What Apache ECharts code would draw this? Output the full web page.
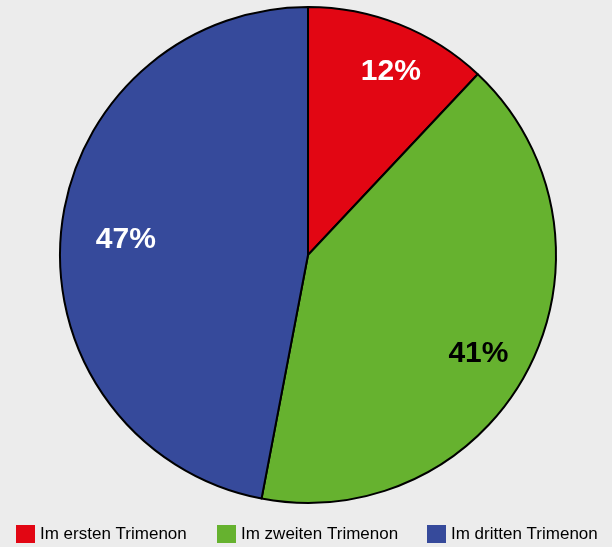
<!DOCTYPE html>
<html>
<head>
<meta charset="utf-8">
<script src="https://cdn.jsdelivr.net/npm/echarts@6/dist/echarts.min.js"></script>
<style>
  html, body { margin: 0; padding: 0; background: #ececec; }
  #chart { width: 612px; height: 547px; }
</style>
</head>
<body>
<div id="chart"></div>
<script>
// Share of cases per trimester
const categories = ['Im ersten Trimenon', 'Im zweiten Trimenon', 'Im dritten Trimenon'];
const shares = [12, 41, 47];
const colors = ['#e20613', '#66b22f', '#364a9b'];
const labelColors = ['#ffffff', '#000000', '#ffffff'];
const labelNudges = [[10, 1], [-6, 9], [15, 3]];

const FONT = '"Liberation Sans", Arial, Helvetica, sans-serif';

const chart = echarts.init(document.getElementById('chart'), null, { renderer: 'canvas' });

const sliceData = categories.map((name, i) => ({
  name,
  value: shares[i],
  itemStyle: { color: colors[i] }
}));

const labelData = categories.map((name, i) => ({
  name,
  value: shares[i],
  label: { color: labelColors[i], offset: labelNudges[i] }
}));

const legendLefts = [16, 217, 427];

chart.setOption({
  backgroundColor: '#ececec',
  animation: false,
  color: colors,
  legend: categories.map((name, i) => ({
    data: [name],
    left: legendLefts[i],
    top: 525,
    itemWidth: 19,
    itemHeight: 18,
    itemGap: 0,
    padding: 0,
    icon: 'rect',
    selectedMode: false,
    itemStyle: { borderWidth: 0 },
    textStyle: { fontFamily: FONT, fontSize: 17, color: '#000', padding: [2, 0, 0, 0] }
  })),
  series: [
    {
      type: 'pie',
      center: [308, 255],
      radius: [0, 248],
      startAngle: 90,
      clockwise: true,
      silent: true,
      label: { show: false },
      labelLine: { show: false },
      itemStyle: { borderColor: '#000', borderWidth: 2 },
      data: sliceData
    },
    {
      // transparent ring that carries the percentage labels
      type: 'pie',
      center: [308, 255],
      radius: [142, 248],
      startAngle: 90,
      clockwise: true,
      silent: true,
      legendHoverLink: false,
      itemStyle: { color: 'rgba(0,0,0,0)', borderWidth: 0 },
      label: {
        show: true,
        position: 'inside',
        formatter: '{c}%',
        fontFamily: FONT,
        fontSize: 30,
        fontWeight: 'bold'
      },
      labelLine: { show: false },
      data: labelData
    }
  ]
});
</script>
</body>
</html>
